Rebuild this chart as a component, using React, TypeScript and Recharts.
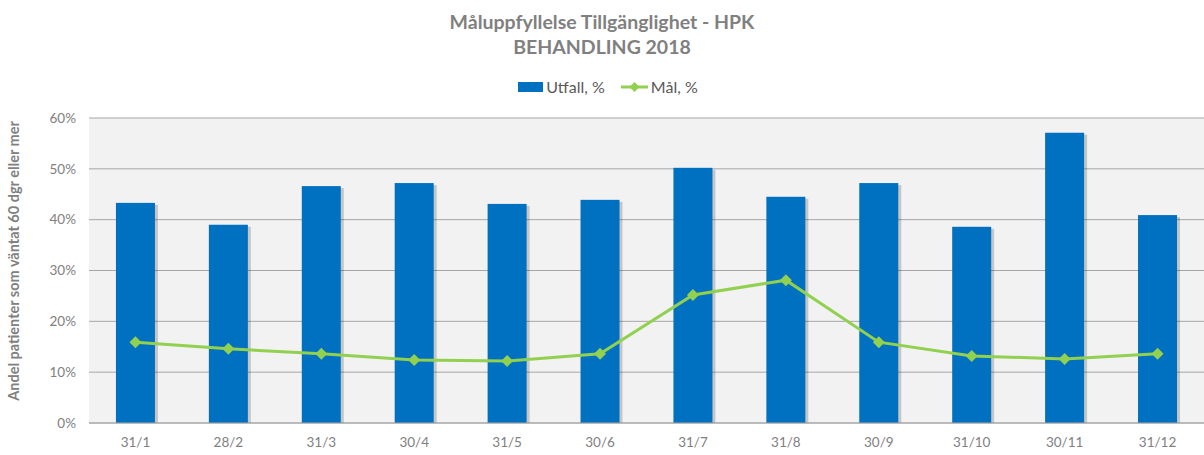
import {
	Bar,
	CartesianGrid,
	ComposedChart,
	Legend,
	Line,
	XAxis,
	YAxis,
} from "recharts";

// Excel-ish look: Calibri is not installed, Lato is the closest match
const FONT = "Lato, 'Open Sans', sans-serif";

const months = [
	"31/1", "28/2", "31/3", "30/4", "31/5", "30/6",
	"31/7", "31/8", "30/9", "31/10", "30/11", "31/12",
];
const utfall = [43.3, 39.0, 46.6, 47.2, 43.1, 43.9, 50.2, 44.5, 47.2, 38.6, 57.1, 40.9];
const mal = [15.9, 14.6, 13.6, 12.4, 12.2, 13.6, 25.2, 28.1, 15.9, 13.2, 12.6, 13.6];
const yTicks = [0, 10, 20, 30, 40, 50, 60];

const data = months.map((month, i) => ({
	month,
	utfall: utfall[i],
	mal: mal[i],
}));

if (typeof document !== "undefined") {
	document.body.style.margin = "0";
}

// bar with a soft shadow to the right, like the Excel export
const ShadowBar = (props: any) => {
	const {x, y, width, height, fill} = props;
	if (!height || height <= 0) return null;
	return (
		<g>
			<rect x={x + 3} y={y + 2} width={width} height={height - 2} fill="#000" opacity={0.18} />
			<rect x={x} y={y} width={width} height={height} fill={fill} />
		</g>
	);
};

const Diamond = (props: any) => {
	const {cx, cy} = props;
	if (cx == null || cy == null) return null;
	const r = 6;
	return (
		<polygon
			points={`${cx},${cy - r} ${cx + r},${cy} ${cx},${cy + r} ${cx - r},${cy}`}
			fill="#92D050"
		/>
	);
};

const LegendContent = () => (
	<div
		style={{
			display: "flex",
			justifyContent: "center",
			alignItems: "center",
			fontFamily: FONT,
			fontSize: 16,
			color: "#595959",
			paddingLeft: 12,
		}}
	>
		<span style={{display: "inline-block", width: 25, height: 10, background: "#0070C0", marginRight: 3}} />
		<span style={{marginRight: 16}}>Utfall, %</span>
		<svg width={27} height={12} style={{marginRight: 3}}>
			<line x1={0} y1={6} x2={27} y2={6} stroke="#92D050" strokeWidth={3} />
			<polygon points="13.5,1 18.5,6 13.5,11 8.5,6" fill="#92D050" />
		</svg>
		<span>Mål, %</span>
	</div>
);

const YLabel = () => (
	<text
		x={15}
		y={261}
		transform="rotate(-90 15 261)"
		textAnchor="middle"
		dominantBaseline="middle"
		fontFamily={FONT}
		fontSize={14.5}
		fontWeight="bold"
		fill="#808080"
	>
		Andel patienter som väntat 60 dgr eller mer
	</text>
);

export default function App() {
	return (
		<div style={{position: "relative", width: 1204, height: 455, background: "#fff"}}>
			<div
				style={{
					position: "absolute",
					top: 9,
					left: 0,
					width: 1204,
					textAlign: "center",
					fontFamily: FONT,
					fontWeight: "bold",
					fontSize: 19.5,
					lineHeight: "25px",
					color: "#808080",
					zIndex: 1,
				}}
			>
				<div>Måluppfyllelse Tillgänglighet - HPK</div>
				<div>BEHANDLING 2018</div>
			</div>
			<ComposedChart
				width={1204}
				height={455}
				data={data}
				margin={{top: 118, right: 0, bottom: 0, left: 0}}
				barCategoryGap="29%"
			>
				<CartesianGrid
					vertical={false}
					stroke="#A6A6A6"
					fill="#F2F2F2"
					strokeWidth={1}
				/>
				<XAxis
					dataKey="month"
					height={32}
					tickLine={false}
					axisLine={{stroke: "#A6A6A6"}}
					tick={{fill: "#808080", fontSize: 13.5, fontFamily: FONT}}
					tickMargin={8}
					interval={0}
				/>
				<YAxis
					width={89}
					domain={[0, 60]}
					ticks={yTicks}
					tickFormatter={(v) => `${v}%`}
					tickLine={false}
					axisLine={false}
					tick={{fill: "#808080", fontSize: 13.5, fontFamily: FONT}}
					tickMargin={7}
				/>
				<Legend
					verticalAlign="middle"
					align="center"
					content={<LegendContent />}
					wrapperStyle={{top: 77, left: 0, width: 1204}}
				/>
				<Bar
					dataKey="utfall"
					name="Utfall, %"
					fill="#0070C0"
					shape={<ShadowBar />}
					isAnimationActive={false}
				/>
				<Line
					dataKey="mal"
					name="Mål, %"
					type="linear"
					stroke="#92D050"
					strokeWidth={3}
					dot={<Diamond />}
					activeDot={false}
					isAnimationActive={false}
				/>
				<YLabel />
			</ComposedChart>
		</div>
	);
}
